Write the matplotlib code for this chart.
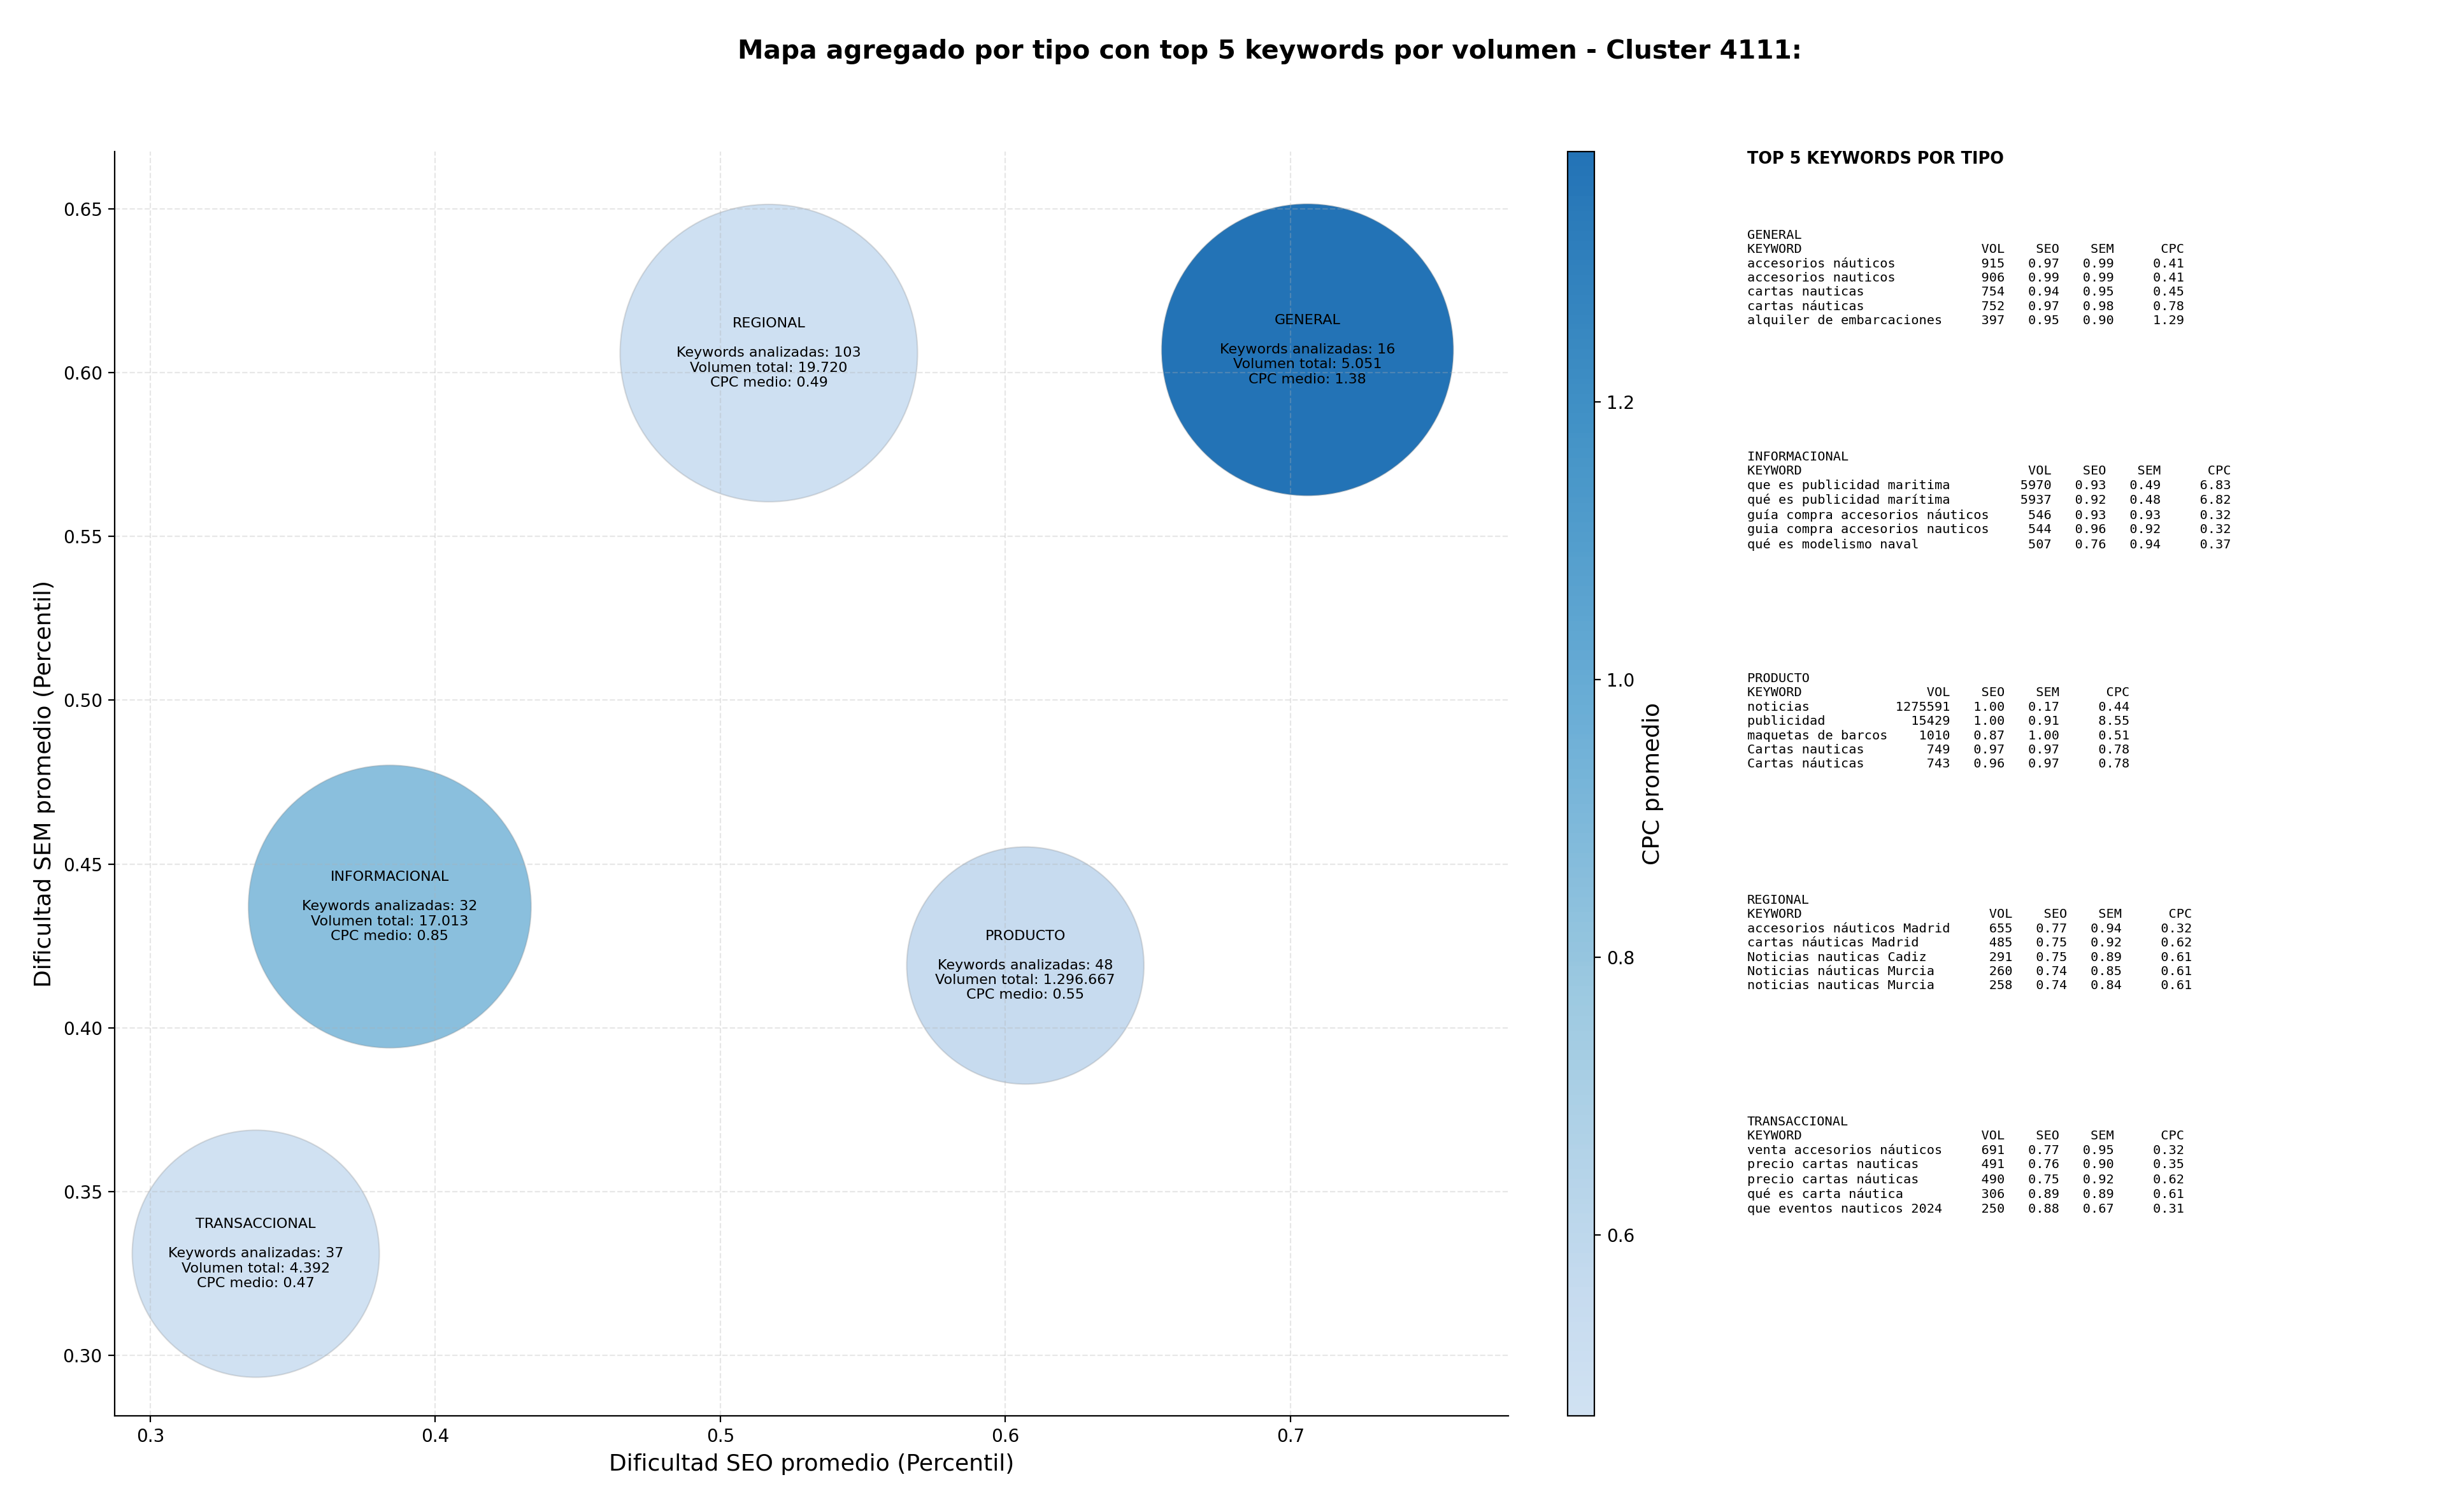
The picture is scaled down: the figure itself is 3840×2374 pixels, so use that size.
import numpy as np
import matplotlib
matplotlib.use('Agg')
import matplotlib.pyplot as plt
from matplotlib.colors import ListedColormap, Normalize

# datos agregados por tipo
tipos = ['GENERAL', 'INFORMACIONAL', 'PRODUCTO', 'REGIONAL', 'TRANSACCIONAL']
seo_medio = [0.706, 0.384, 0.607, 0.517, 0.337]
sem_medio = [0.607, 0.437, 0.419, 0.606, 0.331]
n_keywords = [16, 32, 48, 103, 37]
volumen_total = [5051, 17013, 1296667, 19720, 4392]
cpc_medio = [1.38, 0.85, 0.55, 0.49, 0.47]
tamano = [27190, 25540, 17980, 28260, 19510]

# top 5 keywords por tipo: (keyword, vol, seo, sem, cpc)
top_general = [
    ('accesorios náuticos', 915, 0.97, 0.99, 0.41),
    ('accesorios nauticos', 906, 0.99, 0.99, 0.41),
    ('cartas nauticas', 754, 0.94, 0.95, 0.45),
    ('cartas náuticas', 752, 0.97, 0.98, 0.78),
    ('alquiler de embarcaciones', 397, 0.95, 0.90, 1.29),
]
top_informacional = [
    ('que es publicidad maritima', 5970, 0.93, 0.49, 6.83),
    ('qué es publicidad marítima', 5937, 0.92, 0.48, 6.82),
    ('guía compra accesorios náuticos', 546, 0.93, 0.93, 0.32),
    ('guia compra accesorios nauticos', 544, 0.96, 0.92, 0.32),
    ('qué es modelismo naval', 507, 0.76, 0.94, 0.37),
]
top_producto = [
    ('noticias', 1275591, 1.00, 0.17, 0.44),
    ('publicidad', 15429, 1.00, 0.91, 8.55),
    ('maquetas de barcos', 1010, 0.87, 1.00, 0.51),
    ('Cartas nauticas', 749, 0.97, 0.97, 0.78),
    ('Cartas náuticas', 743, 0.96, 0.97, 0.78),
]
top_regional = [
    ('accesorios náuticos Madrid', 655, 0.77, 0.94, 0.32),
    ('cartas náuticas Madrid', 485, 0.75, 0.92, 0.62),
    ('Noticias nauticas Cadiz', 291, 0.75, 0.89, 0.61),
    ('Noticias náuticas Murcia', 260, 0.74, 0.85, 0.61),
    ('noticias nauticas Murcia', 258, 0.74, 0.84, 0.61),
]
top_transaccional = [
    ('venta accesorios náuticos', 691, 0.77, 0.95, 0.32),
    ('precio cartas nauticas', 491, 0.76, 0.90, 0.35),
    ('precio cartas náuticas', 490, 0.75, 0.92, 0.62),
    ('qué es carta náutica', 306, 0.89, 0.89, 0.61),
    ('que eventos nauticos 2024', 250, 0.88, 0.67, 0.31),
]
tops = [top_general, top_informacional, top_producto, top_regional, top_transaccional]


def fmt_vol(v):
    return f"{v:,}".replace(',', '.')


cmap = ListedColormap(plt.cm.Blues(np.linspace(0.2, 0.74, 256)))
norm = Normalize(vmin=min(cpc_medio), vmax=max(cpc_medio))

fig = plt.figure(figsize=(19.2, 11.87), dpi=200)
ax = fig.add_axes([0.0469, 0.0636, 0.5698, 0.8361])
cax = fig.add_axes([0.6409, 0.0636, 0.0109, 0.8361])

sc = ax.scatter(seo_medio, sem_medio, s=tamano, c=cpc_medio, cmap=cmap, norm=norm,
                edgecolors=(0.5, 0.5, 0.5, 0.25), linewidths=0.8)

for i, t in enumerate(tipos):
    txt = (f"{t}\n\nKeywords analizadas: {n_keywords[i]}\n"
           f"Volumen total: {fmt_vol(volumen_total[i])}\nCPC medio: {cpc_medio[i]:.2f}")
    ax.text(seo_medio[i], sem_medio[i], txt, ha='center', va='center', fontsize=8)

ax.set_xlim(0.2875, 0.7765)
ax.set_ylim(0.2815, 0.6675)
ax.grid(True, linestyle='--', alpha=0.3)
ax.spines['top'].set_visible(False)
ax.spines['right'].set_visible(False)
ax.set_xlabel('Dificultad SEO promedio (Percentil)', fontsize=13)
ax.set_ylabel('Dificultad SEM promedio (Percentil)', fontsize=13)

cb = fig.colorbar(sc, cax=cax)
cb.set_label('CPC promedio', fontsize=13)

fig.suptitle('Mapa agregado por tipo con top 5 keywords por volumen - Cluster 4111:',
             fontsize=14.7, fontweight='bold', x=0.519, y=0.966, va='center')

# panel de texto
fig.text(0.7143, 0.8947, 'TOP 5 KEYWORDS POR TIPO', fontsize=9.2, fontweight='bold', va='center')
y0 = 0.8485
for i, t in enumerate(tipos):
    rows = tops[i]
    w = max(len(r[0]) for r in rows)
    lines = [t, f"{'KEYWORD':<{w}} {'VOL':>7} {'SEO':>6} {'SEM':>6} {'CPC':>8}"]
    for kw, vol, s1, s2, c in rows:
        lines.append(f"{kw:<{w}} {vol:>7} {s1:>6.2f} {s2:>6.2f} {c:>8.2f}")
    fig.text(0.7143, y0 - i * 0.1466, '\n'.join(lines), family='monospace',
             fontsize=7.3, va='top', linespacing=1.23)

fig.savefig('out.png', dpi=200)
